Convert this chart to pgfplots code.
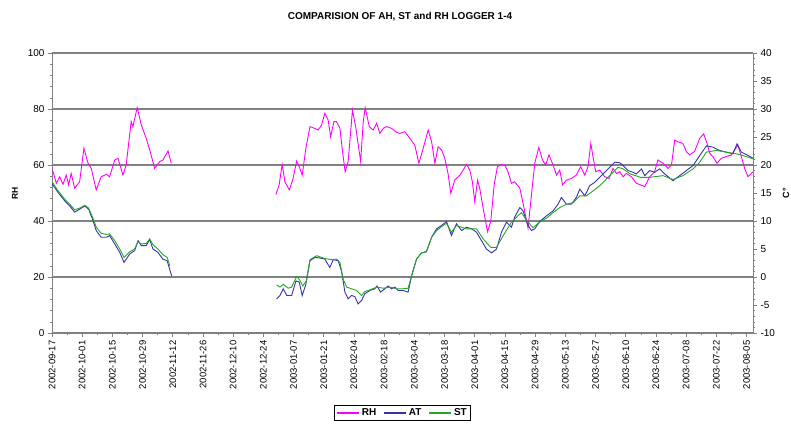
\documentclass[border=0pt]{standalone}
\usepackage{fontspec}
\setmainfont{Liberation Sans}
\usepackage{pgfplots}
\pgfplotsset{compat=1.18}
\usepackage{pgfplotstable}
\definecolor{rhc}{RGB}{255,0,255}
\definecolor{atc}{RGB}{51,51,170}
\definecolor{stc}{RGB}{40,165,40}
\definecolor{gridc}{RGB}{128,128,128}

\pgfplotstableread{
d v
0 58.2
0.5 57.6
2.0 53.5
3.6 55.8
5.1 53.1
6.6 56.4
7.7 52.9
8.9 57.0
10.5 51.7
12.8 54.0
14.8 66.0
16.7 60.6
18.2 58.8
20.5 51.1
22.8 55.8
25.2 56.7
26.7 55.8
29.1 61.8
30.6 62.4
32.9 56.4
34.4 60.0
36.7 75.5
37.5 73.7
39.5 80.5
41.4 74.3
43.7 69.5
45.3 65.4
47.6 58.8
49.9 61.2
51.4 61.8
53.8 65.0
55.3 60.6
80 nan
103.8 49.5
105.3 52.9
106.7 60.2
108.0 54.0
110.0 51.1
111.8 55.2
113.4 61.4
114.6 59.4
116.0 56.4
117.7 66.0
119.6 73.7
121.1 73.3
123.4 72.5
125.0 74.3
126.5 78.5
128.0 76.1
129.2 70.1
130.7 75.5
131.9 75.5
133.5 73.1
134.7 64.8
135.9 57.6
137.3 61.2
139.3 79.6
140.9 73.1
143.1 61.2
144.3 75.5
145.2 80.5
147.1 73.7
148.9 72.5
150.5 74.9
152.0 71.3
153.6 73.1
155.1 73.7
157.4 73.1
159.7 71.7
161.3 71.3
163.6 71.9
165.9 69.5
168.2 67.1
170.1 60.6
172.1 66.0
174.4 72.5
176.0 68.3
177.5 60.6
179.0 66.5
180.6 65.4
182.1 62.4
183.6 57.0
184.9 49.9
186.7 54.6
189.1 56.4
190.6 58.2
192.2 60.2
193.7 58.2
194.9 54.0
196.0 46.9
197.3 54.6
198.3 51.7
199.9 44.5
201.9 36.2
203.4 39.8
205.0 52.9
206.5 59.4
208.4 60.2
209.9 60.0
211.4 57.6
213.0 53.5
214.5 54.0
216.9 51.7
218.4 46.3
220.7 37.5
223.8 60.6
225.7 66.3
227.4 61.8
228.9 60.0
230.4 63.6
232.3 60.0
233.9 56.4
235.4 58.2
236.7 52.9
238.5 54.6
240.8 55.2
243.1 56.4
245.1 59.4
247.0 56.4
248.5 59.4
249.8 67.7
250.8 63.0
252.1 57.6
253.9 58.2
256.3 55.8
258.3 55.2
260.1 58.8
261.7 57.0
263.2 57.6
264.8 55.8
266.3 57.0
268.6 55.8
270.9 53.5
274.8 52.3
277.1 55.8
279.4 57.6
280.9 61.8
283.3 60.6
285.6 58.8
287.2 60.0
288.7 68.9
290.2 68.3
292.5 67.7
294.1 64.8
295.6 63.6
297.9 64.8
300.3 69.5
302.1 71.1
303.7 67.7
304.9 64.2
306.4 63.0
308.3 60.6
310.3 62.4
312.6 63.0
315.0 63.6
316.5 65.4
318.0 67.1
319.6 63.0
321.1 58.8
322.7 55.8
324.2 57.0
325.0 57.5
}\rhdata

\pgfplotstableread{
d v
0 16.7
2.8 15.1
5.9 13.6
8.2 12.7
10.5 11.6
12.8 12.1
15.2 12.7
17.0 12.1
19.0 10.1
20.5 8.3
22.8 7.1
25.2 7.1
26.7 7.4
29.1 5.9
31.4 4.4
33.4 2.6
36.0 4.1
38.3 4.7
39.9 6.5
41.4 5.6
43.7 5.6
45.3 6.7
46.8 5.0
49.1 4.4
51.4 3.2
53.4 2.9
55.0 0.8
55.5 0.2
80 nan
104.1 -3.9
105.7 -3.3
107.2 -2.1
108.8 -3.3
111.1 -3.3
113.1 -0.7
114.6 -0.9
116.0 -3.3
117.7 -1.3
119.6 2.9
121.9 3.5
124.2 3.4
126.5 3.2
128.8 1.7
130.4 3.1
132.7 2.9
134.2 1.1
135.8 -2.7
137.3 -3.9
138.9 -3.3
140.4 -3.5
141.9 -4.8
143.5 -4.2
145.0 -3.0
147.4 -2.4
149.7 -2.1
150.7 -1.6
152.3 -2.7
154.3 -2.1
155.8 -1.6
157.4 -2.1
158.9 -1.8
160.5 -2.4
162.8 -2.4
165.1 -2.7
166.7 0.2
169.0 3.2
171.3 4.3
173.6 4.5
176.0 7.1
178.3 8.6
180.6 9.2
182.9 9.9
185.2 7.4
187.5 9.5
189.9 8.3
192.2 8.9
194.5 8.6
196.8 8.0
199.1 6.5
201.4 5.0
203.8 4.3
206.1 5.0
208.4 8.0
210.7 9.8
213.0 8.9
214.5 10.7
216.9 12.4
218.4 11.8
220.7 9.2
222.3 8.3
223.8 8.6
226.1 9.9
229.2 10.9
232.3 11.8
234.6 13.0
236.2 14.2
238.5 13.0
240.8 13.0
243.1 14.2
244.7 15.7
247.0 14.5
249.3 16.3
251.6 16.9
253.9 17.8
256.3 18.7
258.6 19.6
260.9 20.5
263.2 20.4
264.8 19.9
267.1 19.0
269.4 18.7
270.9 18.4
273.3 19.3
274.8 18.1
277.1 19.0
279.4 18.7
281.7 19.3
284.1 18.4
287.9 17.2
291.0 18.1
294.1 19.0
297.2 19.9
300.3 21.7
303.4 23.4
306.4 23.2
309.5 22.6
312.6 22.3
315.7 22.0
317.6 23.8
319.6 22.3
322.7 21.7
325.0 21.2
}\atdata

\pgfplotstableread{
d v
0 17.0
2.8 15.4
5.9 13.9
8.2 13.0
10.5 12.0
12.8 12.3
15.2 12.8
17.0 12.3
19.0 10.5
20.5 8.9
22.8 7.8
25.2 7.6
26.7 7.7
29.1 6.5
31.4 5.0
33.4 3.5
36.0 4.5
38.3 5.0
39.9 6.3
41.4 5.9
43.7 6.0
45.3 6.8
46.8 5.8
49.1 5.0
51.4 4.0
53.4 3.5
54.6 2.0
80 nan
104.1 -1.4
105.7 -1.8
107.2 -1.3
109.5 -2.0
111.1 -1.8
113.4 0.1
114.8 -0.5
116.3 -1.6
117.9 -0.7
119.6 3.1
122.7 3.8
126.5 3.3
129.6 3.1
131.9 3.2
133.5 2.6
135.0 -0.4
136.6 -1.8
138.9 -2.1
141.2 -2.4
143.5 -3.3
145.0 -2.6
147.4 -2.3
150.5 -1.8
153.6 -2.0
156.6 -1.8
159.7 -2.1
162.8 -2.1
165.1 -2.0
166.7 0.2
169.0 3.2
171.3 4.3
173.6 4.6
176.0 7.1
178.3 8.3
180.6 9.0
182.9 9.6
185.2 8.0
187.5 9.2
192.2 8.6
196.8 8.6
199.9 6.8
203.4 5.3
206.1 5.3
209.2 7.4
213.0 9.8
217.6 11.5
220.7 9.8
223.0 8.8
226.1 9.8
229.2 10.5
232.3 11.5
235.4 12.4
238.5 13.0
241.7 13.3
244.7 14.5
247.8 14.5
250.9 15.4
253.9 16.3
255.5 16.9
259.3 18.4
262.4 19.6
264.8 19.3
268.1 18.4
272.8 17.8
277.1 17.8
283.3 18.1
287.9 17.4
292.5 18.1
297.2 19.3
300.3 20.5
303.4 22.3
308.0 22.6
312.6 22.3
317.2 22.0
320.3 21.7
325.0 21.1
}\stdata

\pgfplotsset{
  every tick label/.append style={font=\fontsize{10}{12}\selectfont},
  /pgf/number format/assume math mode=true,
}

\begin{document}
\begin{tikzpicture}
\useasboundingbox (-52pt,-91pt) rectangle (739pt,333pt);
\begin{axis}[
  at={(0pt,0pt)}, anchor=south west,
  scale only axis, width=701pt, height=280pt,
  xmin=0, xmax=325, ymin=0, ymax=100,
  axis x line*=bottom, axis y line*=left,
  axis line style={draw=gridc, line width=0.8pt},
  every tick/.style={draw=gridc, line width=0.6pt},
  tick align=outside,
  major tick length=4pt, minor tick length=2pt,
  xtick={0,14,...,322},
  minor x tick num=1,
  xticklabels={2002-09-17,2002-10-01,2002-10-15,2002-10-29,2002-11-12,2002-11-26,2002-12-10,2002-12-24,2003-01-07,2003-01-21,2003-02-04,2003-02-18,2003-03-04,2003-03-18,2003-04-01,2003-04-15,2003-04-29,2003-05-13,2003-05-27,2003-06-10,2003-06-24,2003-07-08,2003-07-22,2003-08-05},
  xticklabel style={rotate=90, anchor=east, font=\fontsize{9.5}{11}\selectfont},
  ytick={0,20,...,100},
  minor y tick num=4,
  ymajorgrids,
  major grid style={draw=gridc, line width=1.3pt},
  ylabel={RH},
  ylabel style={at={(axis description cs:-0.053,0.5)}, anchor=center, font=\bfseries\fontsize{8.5}{10}\selectfont},
  title={COMPARISION OF AH, ST and RH LOGGER 1-4},
  title style={at={(axis description cs:0.4965,1)}, anchor=center, yshift=30pt, font=\bfseries\fontsize{10}{12}\selectfont},
  unbounded coords=jump,
]
\addplot[color=rhc, line width=0.9pt] table[x=d, y=v] {\rhdata};
\end{axis}
\begin{axis}[
  at={(0pt,0pt)}, anchor=south west,
  scale only axis, width=701pt, height=280pt,
  xmin=0, xmax=325, ymin=-10, ymax=40,
  axis x line=none, axis y line*=right,
  axis line style={draw=gridc, line width=0.8pt},
  every tick/.style={draw=gridc, line width=0.6pt},
  tick align=outside,
  major tick length=4pt, minor tick length=2pt,
  ytick={-10,-5,...,40},
  minor y tick num=4,
  ylabel={C°},
  ylabel style={at={(axis description cs:1.047,0.5)}, anchor=center, font=\bfseries\fontsize{9}{11}\selectfont},
  unbounded coords=jump,
  legend style={at={(axis description cs:0.5,-0.286)}, anchor=center, legend columns=3,
    inner sep=1.5pt, line width=0.9pt,
    font=\bfseries\fontsize{10}{12}\selectfont,
    /tikz/every even column/.append style={column sep=5pt}},
  legend image code/.code={\path[draw=\pgfkeysvalueof{/pgfplots/legendcol}, line width=1.6pt] (0pt,0pt) -- (22pt,0pt);},
]
\addlegendimage{/pgfplots/legendcol/.initial=rhc}
\addlegendentry{RH}
\addplot[color=atc, line width=0.9pt, /pgfplots/legendcol/.initial=atc] table[x=d, y=v] {\atdata};
\addlegendentry{AT}
\addplot[color=stc, line width=0.9pt, /pgfplots/legendcol/.initial=stc] table[x=d, y=v] {\stdata};
\addlegendentry{ST}
\end{axis}
\end{tikzpicture}
\end{document}
